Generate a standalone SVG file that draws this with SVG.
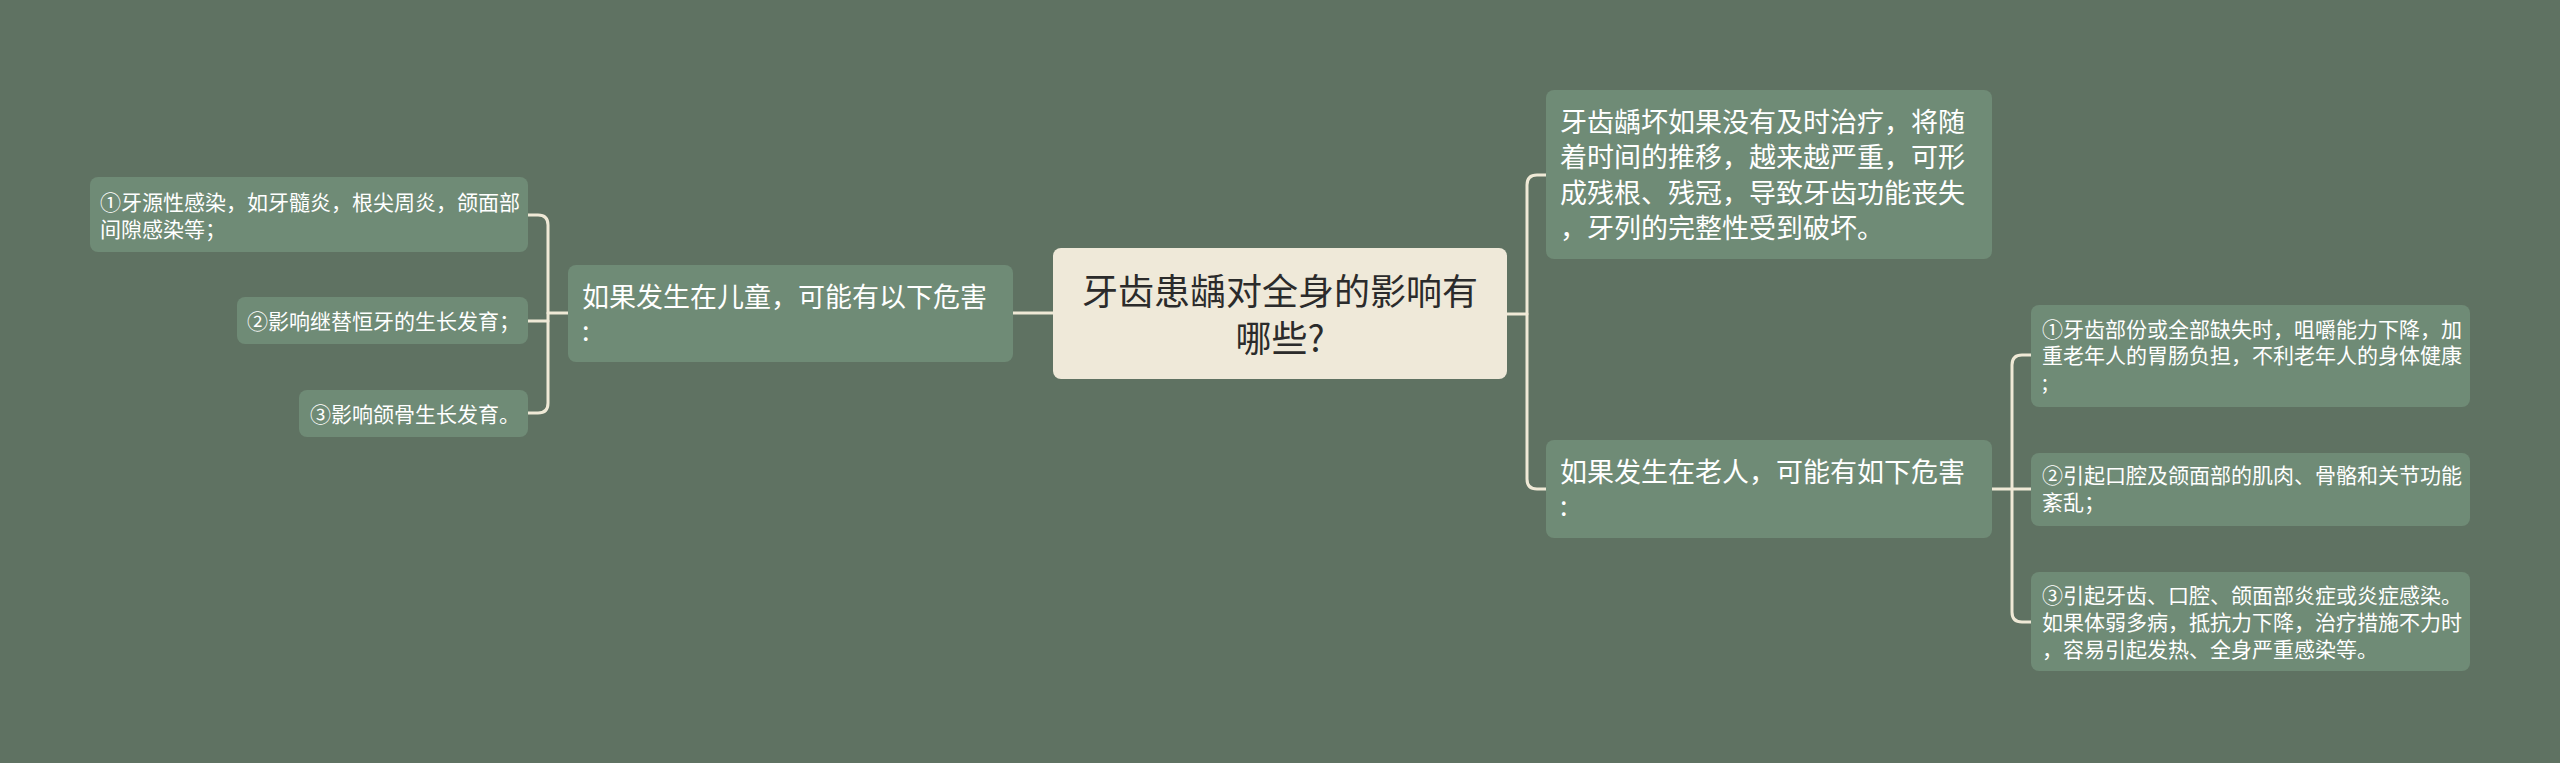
<svg xmlns="http://www.w3.org/2000/svg" width="2560" height="763" viewBox="0 0 2560 763">
<style>
.bg{fill:#5f7262}
.node{fill:#6f8b76}
.root{fill:#efe9d9}
.t{font-family:"Noto Sans CJK SC","Noto Sans",sans-serif;fill:#ffffff}
.t27{font-size:27px}
.t21{font-size:21px}
.rt{font-family:"Noto Sans CJK SC","Noto Sans",sans-serif;font-size:36px;fill:#2b2b2b;text-anchor:middle}
.c{fill:none;stroke:#efe9d6;stroke-width:3;stroke-linecap:round;stroke-linejoin:round}
</style>
<rect class="bg" x="0" y="0" width="2560" height="763"/>
<g id="connectors">
<path class="c" d="M1013 313 H1053"/>
<path class="c" d="M568 313 H548"/>
<path class="c" d="M528 215 H538 Q548 215 548 225 V403 Q548 413 538 413 H528"/>
<path class="c" d="M548 321 H528"/>
<path class="c" d="M1507 314 H1527"/>
<path class="c" d="M1546 175 H1537 Q1527 175 1527 185 V479 Q1527 489 1537 489 H1546"/>
<path class="c" d="M1992 489 H2031"/>
<path class="c" d="M2031 355 H2022 Q2012 355 2012 365 V612 Q2012 622 2022 622 H2031"/>
</g>
<g id="root">
<rect class="root" x="1053" y="248" width="454" height="131" rx="8"/>
<text class="rt" x="1280" y="305">牙齿患龋对全身的影响有</text>
<text class="rt" x="1280" y="352">哪些?</text>
</g>
<g id="child-kids">
<rect class="node" x="568" y="265" width="445" height="97" rx="8"/>
<text class="t t27" x="582" y="307">如果发生在儿童，可能有以下危害</text>
<text class="t t27" x="582" y="341">:</text>
</g>
<g id="kid-1">
<rect class="node" x="90" y="177" width="438" height="75" rx="8"/>
<text class="t t21" x="100" y="210">①牙源性感染，如牙髓炎，根尖周炎，颌面部</text>
<text class="t t21" x="100" y="237">间隙感染等；</text>
</g>
<g id="kid-2">
<rect class="node" x="237" y="297" width="291" height="47" rx="8"/>
<text class="t t21" x="247" y="329">②影响继替恒牙的生长发育；</text>
</g>
<g id="kid-3">
<rect class="node" x="299" y="390" width="229" height="47" rx="8"/>
<text class="t t21" x="310" y="422">③影响颌骨生长发育。</text>
</g>
<g id="caries">
<rect class="node" x="1546" y="90" width="446" height="169" rx="8"/>
<text class="t t27" x="1560" y="132">牙齿龋坏如果没有及时治疗，将随</text>
<text class="t t27" x="1560" y="167">着时间的推移，越来越严重，可形</text>
<text class="t t27" x="1560" y="203">成残根、残冠，导致牙齿功能丧失</text>
<text class="t t27" x="1560" y="238">，牙列的完整性受到破坏。</text>
</g>
<g id="child-elder">
<rect class="node" x="1546" y="440" width="446" height="98" rx="8"/>
<text class="t t27" x="1560" y="482">如果发生在老人，可能有如下危害</text>
<text class="t t27" x="1560" y="516">:</text>
</g>
<g id="elder-1">
<rect class="node" x="2031" y="305" width="439" height="102" rx="8"/>
<text class="t t21" x="2042" y="337">①牙齿部份或全部缺失时，咀嚼能力下降，加</text>
<text class="t t21" x="2042" y="363">重老年人的胃肠负担，不利老年人的身体健康</text>
<text class="t t21" x="2042" y="390">;</text>
</g>
<g id="elder-2">
<rect class="node" x="2031" y="453" width="439" height="73" rx="8"/>
<text class="t t21" x="2042" y="483">②引起口腔及颌面部的肌肉、骨骼和关节功能</text>
<text class="t t21" x="2042" y="510">紊乱；</text>
</g>
<g id="elder-3">
<rect class="node" x="2031" y="572" width="439" height="99" rx="8"/>
<text class="t t21" x="2042" y="603">③引起牙齿、口腔、颌面部炎症或炎症感染。</text>
<text class="t t21" x="2042" y="630">如果体弱多病，抵抗力下降，治疗措施不力时</text>
<text class="t t21" x="2042" y="657">，容易引起发热、全身严重感染等。</text>
</g>
</svg>
